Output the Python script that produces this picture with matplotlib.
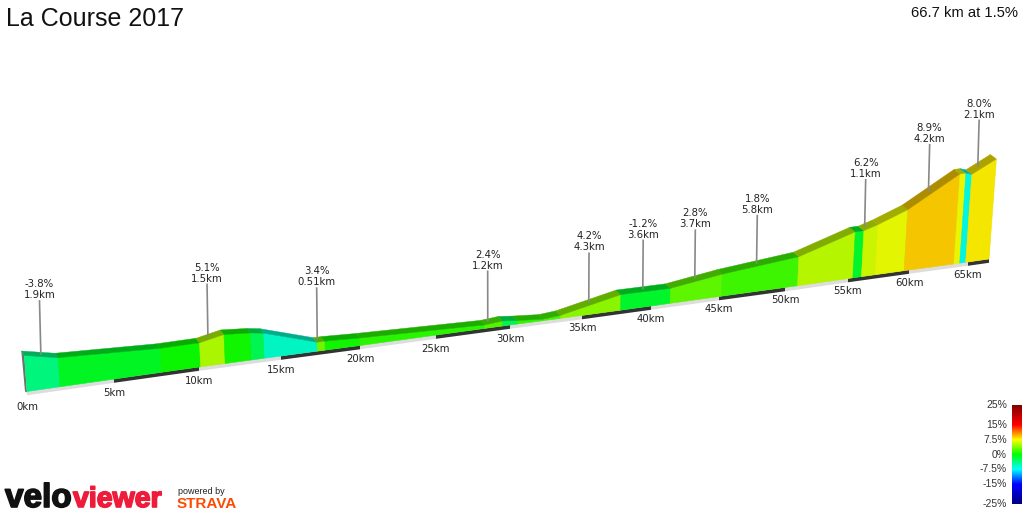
import numpy as np
from matplotlib import pyplot as plt
from matplotlib.colors import LinearSegmentedColormap
from matplotlib import patheffects as pe

# km ruler along the road, as it lies on the picture (perspective)
tick_km = [0, 5, 10, 15, 20, 25, 30, 35, 40, 45, 50, 55, 60, 65, 66.7]
base_x = [27, 114, 199, 281, 360, 436, 510, 582, 651, 719, 785, 848, 909, 968, 989]
base_y = [391.5, 379, 367, 356, 345.5, 335, 325, 315.5, 306, 296.5, 287.5, 278.5, 270, 262, 259]

# profile: breakpoints, wall height there, gradient of each stretch
seg_km = [0, 1.9, 7.8, 10.1, 11.6, 13.2, 14, 17.3, 17.8, 20, 28.3, 29.5, 30.5, 32.3,
          33.5, 37.8, 41.4, 45.2, 51, 55.4, 56.1, 57.2, 59.6, 63.8, 64.3, 64.8, 66.7]
seg_height = [36, 29, 24, 24, 29, 27, 25, 9, 9, 7.5, 3.5, 5, 3.5, 1.5,
              3, 15.6, 15, 22, 29, 46, 46, 50, 61, 90, 90, 88, 100]
seg_grad = [-3.8, -1, 0.2, 5.1, 0.5, -2.5, -6, 3.4, 0.5, 1.2, 2.4, -2.5, 1.5,
            2.0, 4.2, -1.2, 2.8, 1.8, 5.5, -1.2, 6.2, 7, 8.9, 7.2, -7, 8.0]

# climbs called out above the road
call_km = [1.1, 10.8, 17.5, 28.7, 35.7, 39.6, 43.4, 48, 56.4, 61.5, 65.5]
call_grad = ['-3.8%', '5.1%', '3.4%', '2.4%', '4.2%', '-1.2%', '2.8%', '1.8%', '6.2%', '8.9%', '8.0%']
call_len = ['1.9km', '1.5km', '0.51km', '1.2km', '4.3km', '3.6km', '3.7km', '5.8km', '1.1km', '4.2km', '2.1km']

scale_vals = [25, 15, 7.5, 0, -7.5, -15, -25]
scale_cols = ['#800000', '#ff0000', '#ffff00', '#00ff00', '#00ffff', '#0000ff', '#000080']
scale_labels = ['25%', '15%', '7.5%', '0%', '-7.5%', '-15%', '-25%']

SANS = 'Liberation Sans'

cmap = LinearSegmentedColormap.from_list('grad', [((v + 25) / 50, c) for v, c in zip(scale_vals[::-1], scale_cols[::-1])])


def grad_col(g, k=1.0):
    return tuple(np.array(cmap((g + 25) / 50)[:3]) * k)


def road(km, h=0):
    x = np.interp(km, tick_km, base_x)
    y = np.interp(km, tick_km, base_y)
    # walls lean away from the middle of the picture
    return x + (x - 510) * h / 6500, y - h


def depth(x):
    return -3 - 3 * (x - 23) / 970, -4.5


fig = plt.figure(figsize=(10.24, 5.12), dpi=100)
ax = fig.add_axes([0, 0, 1, 1])
ax.set_xlim(0, 1024)
ax.set_ylim(512, 0)
ax.axis('off')

# strip under the road, dark every other 5km
for i in range(len(tick_km) - 1):
    x0, y0 = road(tick_km[i])
    x1, y1 = road(tick_km[i + 1])
    col = '#333333' if i % 2 == 1 else '#dddddd'
    ax.fill([x0, x1, x1, x0], [y0, y1, y1 + 3.8, y0 + 3.8], color=col, lw=0, zorder=2)
    off = 15.5 if i == 0 else 14 - 1.2 * (i > 6)
    ax.text(x0, y0 + off, '%dkm' % tick_km[i], ha='center', va='center', fontsize=7.3, color='#222222')

# side of the first stretch
x0, y0 = road(0)
xt, yt = road(0, seg_height[0])
dx, dy = depth(xt)
ax.fill([x0, xt, xt + dx, x0 - 2], [y0 + 1, yt, yt + dy, y0], color='#707070', lw=0, zorder=3)

for i, g in enumerate(seg_grad):
    x0, y0 = road(seg_km[i])
    x1, y1 = road(seg_km[i + 1])
    xa, ya = road(seg_km[i], seg_height[i])
    xb, yb = road(seg_km[i + 1], seg_height[i + 1])
    ax.fill([x0, x1, xb, xa], [y0, y1, yb, ya], color=grad_col(g, 0.96), ec=grad_col(g, 0.93), lw=0.4, zorder=3)
    dxa, dya = depth(xa)
    dxb, dyb = depth(xb)
    ax.fill([xa, xb, xb + dxb, xa + dxa], [ya, yb, yb + dyb, ya + dya], color=grad_col(g, 0.68),
            lw=0.3, ec=grad_col(g, 0.68), zorder=4)

for km, g, l in zip(call_km, call_grad, call_len):
    h = np.interp(km, seg_km, seg_height)
    xa, ya = road(km, h)
    xa, ya = xa - 3, ya - 2
    up = 71 - 8 * xa / 1000
    xt = xa + (xa - 510) * 50 / 17000
    ax.plot([xa, xt], [ya, ya - up + 16], color='#888888', lw=1.2, zorder=5, solid_capstyle='butt')
    ax.text(xt, ya - up, g, ha='center', va='center', fontsize=7.3, color='#222222')
    ax.text(xt, ya - up + 11, l, ha='center', va='center', fontsize=7.3, color='#222222')

ax.text(6, 19, 'La Course 2017', fontsize=18, family=SANS, va='center', color='#111111')
ax.text(1018, 13, '66.7 km at 1.5%', fontsize=10.6, family=SANS, ha='right', va='center', color='#111111')

# colour scale
bar = np.linspace(1, 0, 256).reshape(-1, 1)
ax.imshow(bar, cmap=cmap, extent=(1012, 1022, 504, 405), aspect='auto', zorder=2, vmin=0, vmax=1)
ax.set_xlim(0, 1024)
ax.set_ylim(512, 0)
for v, lab in zip(scale_vals, scale_labels):
    ax.text(1007, 454.5 - v * 1.98, lab, ha='right', va='center', fontsize=7.5, family=SANS, color='#333333')

# logos, as text
ax.text(5, 507, 'velo', fontsize=24, family=SANS, weight='bold', color='#111111',
        path_effects=[pe.withStroke(linewidth=1.2, foreground='#111111')])
ax.text(73, 507, 'viewer', fontsize=20.5, family=SANS, weight='bold', color='#ee1c3a',
        path_effects=[pe.withStroke(linewidth=1.2, foreground='#ee1c3a')])
ax.text(178, 492, 'powered by', fontsize=6.5, family=SANS, va='center', color='#222222')
ax.text(177, 504, 'STRAVA', fontsize=11, family=SANS, weight='bold', va='center', color='#fc4c02')

fig.savefig('out.png', dpi=100)
